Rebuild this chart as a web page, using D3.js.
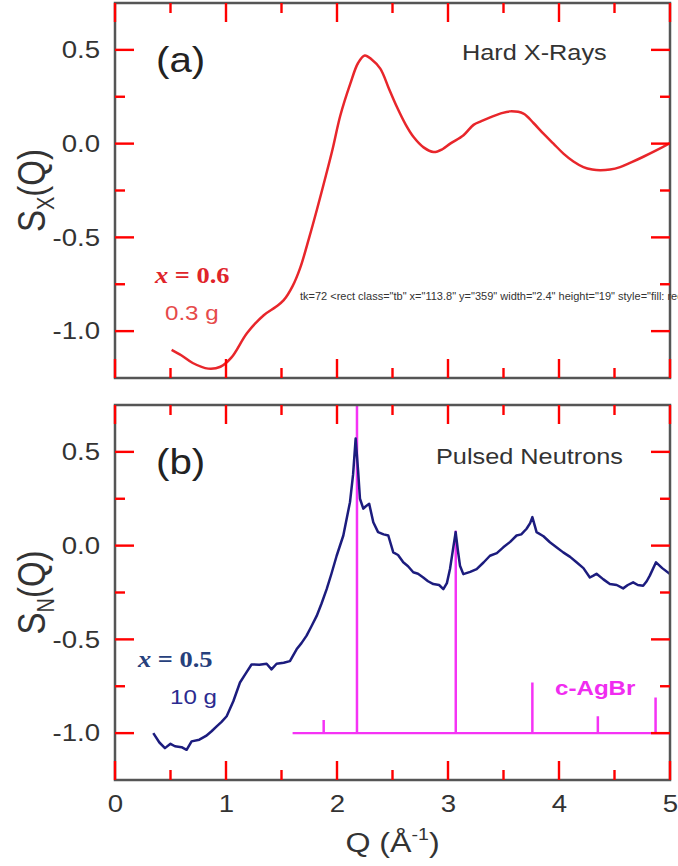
<!DOCTYPE html>
<html>
<head>
<meta charset="utf-8">
<script src="https://cdn.jsdelivr.net/npm/d3@7"></script>
<style>
  body { margin: 0; background: #fff; }
  text { font-family: "Liberation Sans", Arial, sans-serif; fill: #333; }
</style>
</head>
<body>
<div class="graph-container"></div>
<script>
// hard X-ray S(Q), x = 0.6
var qX = [0.51, 0.60, 0.70, 0.84, 0.95, 1.05, 1.19, 1.34, 1.45, 1.52, 1.60, 1.67, 1.75, 1.82, 1.90, 1.96,
  2.03, 2.12, 2.19, 2.25, 2.31, 2.39, 2.47, 2.54, 2.62, 2.69, 2.78, 2.87, 2.95, 3.02, 3.14, 3.23, 3.30,
  3.38, 3.47, 3.56, 3.68, 3.77, 3.86, 3.95, 4.04, 4.13, 4.22, 4.30, 4.37, 4.46, 4.55, 4.65, 4.76, 4.88, 5.00];
var sX = [-1.10, -1.13, -1.17, -1.20, -1.19, -1.14, -1.01, -0.915, -0.87, -0.835, -0.76, -0.66, -0.50, -0.35, -0.17, -0.03,
  0.15, 0.32, 0.43, 0.47, 0.45, 0.40, 0.29, 0.195, 0.10, 0.035, -0.02, -0.045, -0.03, 0.0, 0.045, 0.10, 0.12,
  0.14, 0.16, 0.172, 0.16, 0.11, 0.053, 0.0, -0.053, -0.095, -0.125, -0.138, -0.142, -0.138, -0.125, -0.10, -0.07, -0.035, 0.003];

// pulsed neutron S(Q), x = 0.5
var qN = [0.345, 0.40, 0.45, 0.50, 0.54, 0.60, 0.645, 0.69, 0.76, 0.82, 0.87, 0.916, 0.96, 1.006, 1.066, 1.126,
  1.18, 1.23, 1.30, 1.366, 1.41, 1.456, 1.52, 1.576, 1.636, 1.68, 1.726, 1.77, 1.817, 1.86, 1.907, 1.95, 1.997,
  2.057, 2.117, 2.145, 2.168, 2.19, 2.207, 2.237, 2.26, 2.29, 2.327, 2.37, 2.42, 2.462, 2.507, 2.55, 2.597,
  2.64, 2.687, 2.73, 2.777, 2.82, 2.868, 2.92, 2.958, 2.99, 3.018, 3.045, 3.069, 3.09, 3.108, 3.138, 3.2,
  3.258, 3.32, 3.378, 3.44, 3.498, 3.56, 3.618, 3.66, 3.708, 3.74, 3.76, 3.798, 3.86, 3.918, 3.98, 4.038,
  4.1, 4.158, 4.22, 4.278, 4.31, 4.338, 4.4, 4.458, 4.52, 4.578, 4.62, 4.668, 4.71, 4.758, 4.79, 4.818,
  4.874, 4.93, 5.0];
var sN = [-1.0, -1.05, -1.08, -1.057, -1.07, -1.075, -1.089, -1.044, -1.035, -1.015, -0.99, -0.964, -0.94, -0.91, -0.83, -0.73,
  -0.68, -0.634, -0.635, -0.63, -0.66, -0.63, -0.625, -0.616, -0.553, -0.52, -0.48, -0.43, -0.375, -0.31, -0.232, -0.15, -0.054,
  0.054, 0.232, 0.38, 0.571, 0.40, 0.25, 0.197, 0.21, 0.223, 0.125, 0.072, 0.06, 0.054, -0.036, -0.05, -0.089,
  -0.11, -0.142, -0.15, -0.17, -0.19, -0.205, -0.21, -0.232, -0.2, -0.125, -0.02, 0.072, -0.03, -0.107, -0.152, -0.14,
  -0.125, -0.09, -0.054, -0.04, -0.009, 0.02, 0.054, 0.06, 0.09, 0.12, 0.152, 0.072, 0.05, 0.018, -0.01, -0.036,
  -0.06, -0.089, -0.12, -0.17, -0.16, -0.15, -0.18, -0.205, -0.21, -0.228, -0.21, -0.196, -0.21, -0.214, -0.19, -0.16,
  -0.089, -0.12, -0.152];

// c-AgBr reflections (stick positions and tops), baseline at -1
var qStick = [1.88, 2.18, 3.07, 3.76, 4.35, 4.87];
var sStick = [-0.93, 0.80, 0.08, -0.73, -0.91, -0.81];
var stickBase = -1.0;
var stickStart = 1.6;

var xMajor = [0, 1, 2, 3, 4, 5];
var xMinor = [0.5, 1.5, 2.5, 3.5, 4.5];
var yMajor = [-1.0, -0.5, 0.0, 0.5];
var yMinor = [-0.75, -0.25, 0.25];

var svgWidth = 678;
var svgHeight = 866;
var padLeft = 115;
var padRight = 8;
var panelHeight = 375;
var majorLen = 19;
var minorLen = 10;
var tickW = 2.4;
var SX = 1.15;   // the original figure is stretched sideways a bit

var svg = d3.select('.graph-container').append('svg')
  .attr('width', svgWidth)
  .attr('height', svgHeight);

var xScale = d3.scaleLinear().domain([0, 5]).range([padLeft, svgWidth - padRight]);
var yA = d3.scaleLinear().domain([-1.25, 0.75]).range([3 + panelHeight, 3]);
var yB = d3.scaleLinear().domain([-1.25, 0.75]).range([405 + panelHeight, 405]);

function addText(g, x, y, str, size, color, extra) {
  var t = g.append('text')
    .attr('transform', 'translate(' + x + ',' + y + ') scale(' + SX + ',1)')
    .style('font-size', size + 'px')
    .style('fill', color)
    .text(str);
  if (extra) extra(t);
  return t;
}

// clip paths for the data
var defs = svg.append('defs');
[['clipa', yA], ['clipb', yB]].forEach(function(c) {
  defs.append('clipPath').attr('id', c[0])
    .append('rect')
    .attr('x', xScale(0)).attr('y', c[1](0.75))
    .attr('width', xScale(5) - xScale(0))
    .attr('height', c[1](-1.25) - c[1](0.75));
});

// ---- panel (a): hard X-rays
var plotA = svg.append('g').attr('clip-path', 'url(#clipa)');
var lineA = d3.line()
  .x(function(d) { return xScale(d[0]); })
  .y(function(d) { return yA(d[1]); })
  .curve(d3.curveCatmullRom);
plotA.append('path')
  .datum(d3.zip(qX, sX))
  .attr('d', lineA)
  .attr('fill', 'none')
  .attr('stroke', '#e8262b')
  .attr('stroke-width', 2.5);

// ---- panel (b): pulsed neutrons
var plotB = svg.append('g').attr('clip-path', 'url(#clipb)');
var lineB = d3.line()
  .x(function(d) { return xScale(d[0]); })
  .y(function(d) { return yB(d[1]); });

// c-AgBr sticks
plotB.append('line')
  .attr('x1', xScale(stickStart)).attr('x2', xScale(5))
  .attr('y1', yB(stickBase)).attr('y2', yB(stickBase))
  .attr('stroke', '#f533f5').attr('stroke-width', 2.2);
plotB.selectAll('.stick')
  .data(d3.zip(qStick, sStick))
  .enter().append('line')
  .attr('class', 'stick')
  .attr('x1', function(d) { return xScale(d[0]); })
  .attr('x2', function(d) { return xScale(d[0]); })
  .attr('y1', yB(stickBase))
  .attr('y2', function(d) { return yB(d[1]); })
  .attr('stroke', '#f533f5')
  .attr('stroke-width', 2.5);

plotB.append('path')
  .datum(d3.zip(qN, sN))
  .attr('d', lineB)
  .attr('fill', 'none')
  .attr('stroke', '#1c1c7e')
  .attr('stroke-width', 2.5)
  .attr('stroke-linejoin', 'round');

// ---- axes: labels through d3 axes, frame, inward ticks
function drawFrame(yScale, showXLabels) {
  var g = svg.append('g');
  var x0 = xScale.range()[0], x1 = xScale.range()[1];
  var yTop = yScale.range()[1], yBot = yScale.range()[0];

  if (showXLabels) {
    g.append('g').attr('class', 'axis')
      .attr('transform', 'translate(0,' + yBot + ')')
      .call(d3.axisBottom(xScale).tickValues(xMajor).tickSize(0).tickPadding(15)
        .tickFormat(function(d) { return d; }));
  }
  g.append('g').attr('class', 'axis')
    .attr('transform', 'translate(' + x0 + ',0)')
    .call(d3.axisLeft(yScale).tickValues(yMajor).tickSize(0).tickPadding(13)
      .tickFormat(function(d) { return d.toFixed(1); }));
  g.selectAll('.axis .domain').remove();
  g.selectAll('.axis .tick line').remove();
  g.selectAll('.axis text')
    .style('font-family', '"Liberation Sans", Arial, sans-serif')
    .style('font-size', '24px')
    .attr('fill', '#333')
    .attr('transform', 'scale(' + SX + ',1)');

  g.append('rect')
    .attr('x', x0).attr('y', yTop)
    .attr('width', x1 - x0)
    .attr('height', yBot - yTop)
    .attr('fill', 'none')
    .attr('stroke', '#555')
    .attr('stroke-width', 2.5);

  var xt = xMajor.map(function(v) { return { v: v, len: majorLen }; })
    .concat(xMinor.map(function(v) { return { v: v, len: minorLen }; }));
  var yt = yMajor.map(function(v) { return { v: v, len: majorLen }; })
    .concat(yMinor.map(function(v) { return { v: v, len: minorLen }; }));

  var tk = g.append('g').attr('class', 'tk');
  tk.selectAll('.tb').data(xt).enter().append('rect').attr('class', 'tb')
    .attr('x', function(d) { return xScale(d.v) - tickW / 2; })
    .attr('y', function(d) { return yBot - d.len; })
    .attr('width', tickW)
    .attr('height', function(d) { return d.len; });
  tk.selectAll('.tt').data(xt).enter().append('rect').attr('class', 'tt')
    .attr('x', function(d) { return xScale(d.v) - tickW / 2; })
    .attr('y', yTop)
    .attr('width', tickW)
    .attr('height', function(d) { return d.len; });
  tk.selectAll('.tl').data(yt).enter().append('rect').attr('class', 'tl')
    .attr('x', x0)
    .attr('y', function(d) { return yScale(d.v) - tickW / 2; })
    .attr('width', function(d) { return d.len; })
    .attr('height', tickW);
  tk.selectAll('.tr').data(yt).enter().append('rect').attr('class', 'tr')
    .attr('x', function(d) { return x1 - d.len; })
    .attr('y', function(d) { return yScale(d.v) - tickW / 2; })
    .attr('width', function(d) { return d.len; })
    .attr('height', tickW);
  tk.selectAll('rect').style('fill', 'red');
}
drawFrame(yA, false);
drawFrame(yB, true);

// ---- annotations
addText(svg, 156, 72, '(a)', 35, '#222');
addText(svg, 462, 60, 'Hard X-Rays', 22, '#333');
addText(svg, 155, 283, '', 23, '#e0242a', function(t) {
  t.style('font-family', '"Liberation Serif", "Times New Roman", serif').style('font-weight', 'bold');
  t.append('tspan').style('font-style', 'italic').text('x');
  t.append('tspan').text(' = 0.6');
});
addText(svg, 165, 320, '0.3 g', 21, '#e64a4a');

addText(svg, 156, 474, '(b)', 35, '#222');
addText(svg, 436, 464, 'Pulsed Neutrons', 22, '#333');
addText(svg, 138, 667, '', 23, '#26407c', function(t) {
  t.style('font-family', '"Liberation Serif", "Times New Roman", serif').style('font-weight', 'bold');
  t.append('tspan').style('font-style', 'italic').text('x');
  t.append('tspan').text(' = 0.5');
});
addText(svg, 170, 704, '10 g', 21, '#2b2b90');
addText(svg, 555, 695, 'c-AgBr', 21, '#f02cf0', function(t) { t.style('font-weight', 'bold'); });

// y labels
[[yA, 'X'], [yB, 'N']].forEach(function(p) {
  svg.append('text')
    .attr('transform', 'translate(45,' + p[0](-0.25) + ') scale(' + SX + ',1) rotate(-90)')
    .style('font-size', '33px')
    .style('text-anchor', 'middle')
    .style('fill', '#333')
    .call(function(t) {
      t.append('tspan').text('S');
      t.append('tspan').attr('dy', 8).style('font-size', '20px').text(p[1]);
      t.append('tspan').attr('dy', -8).text('(Q)');
    });
});

// x label
svg.append('text')
  .attr('transform', 'translate(' + xScale(2.5) + ',852) scale(' + SX + ',1)')
  .style('font-size', '28px')
  .style('text-anchor', 'middle')
  .style('fill', '#333')
  .call(function(t) {
    t.append('tspan').text('Q (Å');
    t.append('tspan').attr('dy', -12).style('font-size', '17px').text('-1');
    t.append('tspan').attr('dy', 12).text(')');
  });

var tkr = document.querySelectorAll('.tk rect');
svg.append('text').attr('x', 300).attr('y', 300).style('font-size', '11px')
  .text('tk=' + tkr.length + ' ' + (tkr.length ? tkr[0].outerHTML : ''));
</script>
</body>
</html>
